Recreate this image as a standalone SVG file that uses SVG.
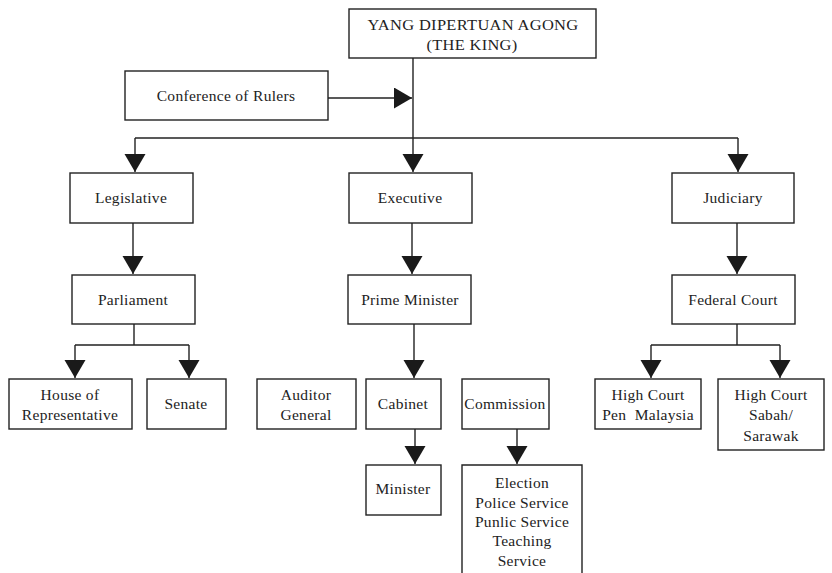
<svg xmlns="http://www.w3.org/2000/svg" width="832" height="573" viewBox="0 0 832 573">
<defs>
<marker id="ah" markerUnits="userSpaceOnUse" markerWidth="19" markerHeight="22" refX="18" refY="10.5" orient="auto">
<path d="M0,0 L18,10.5 L0,21 z" fill="#1a1a1a"/>
</marker>
<style>
.box{fill:#fff;stroke:#222;stroke-width:1.4}
.c{fill:none;stroke:#222;stroke-width:1.4}
.a{marker-end:url(#ah)}
text{font-family:"Liberation Serif","Times New Roman",serif;font-size:15.5px;fill:#222;text-anchor:middle;letter-spacing:0.3px}
</style>
</defs>
<rect width="832" height="573" fill="#fff"/>
<g id="connectors">
<path class="c a" d="M328,98 H412"/>
<path class="c a" d="M413,58 V172"/>
<path class="c" d="M135,138 H738"/>
<path class="c a" d="M135,138 V172"/>
<path class="c a" d="M738,138 V172"/>
<path class="c a" d="M133,223 V274"/>
<path class="c a" d="M412,223 V274"/>
<path class="c a" d="M737,223 V274"/>
<path class="c" d="M134,324 V345 M75,345 H189"/>
<path class="c a" d="M75,345 V378"/>
<path class="c a" d="M189,345 V378"/>
<path class="c a" d="M414,324 V378"/>
<path class="c a" d="M415,429 V464"/>
<path class="c a" d="M517,429 V464"/>
<path class="c" d="M737,324 V345 M651,345 H780"/>
<path class="c a" d="M651,345 V378"/>
<path class="c a" d="M780,345 V378"/>
</g>
<g id="king"><rect class="box" x="349" y="9" width="247" height="49"/><text x="473" y="30" textLength="211" lengthAdjust="spacingAndGlyphs">YANG DIPERTUAN AGONG</text><text x="472" y="50" textLength="91" lengthAdjust="spacingAndGlyphs">(THE KING)</text></g>
<g id="conference"><rect class="box" x="125" y="71" width="203" height="49"/><text x="226" y="101">Conference of Rulers</text></g>
<g id="legislative"><rect class="box" x="70" y="173" width="123" height="50"/><text x="131" y="203">Legislative</text></g>
<g id="executive"><rect class="box" x="349" y="173" width="123" height="50"/><text x="410" y="203">Executive</text></g>
<g id="judiciary"><rect class="box" x="672" y="173" width="122" height="50"/><text x="733" y="203">Judiciary</text></g>
<g id="parliament"><rect class="box" x="72" y="275" width="123" height="49"/><text x="133" y="305">Parliament</text></g>
<g id="primeminister"><rect class="box" x="348" y="275" width="123" height="49"/><text x="410" y="305">Prime Minister</text></g>
<g id="federalcourt"><rect class="box" x="672" y="275" width="123" height="49"/><text x="733" y="305">Federal Court</text></g>
<g id="house"><rect class="box" x="9" y="379" width="123" height="50"/><text x="70" y="400">House of</text><text x="70" y="420">Representative</text></g>
<g id="senate"><rect class="box" x="147" y="379" width="79" height="50"/><text x="186" y="409">Senate</text></g>
<g id="auditor"><rect class="box" x="257" y="379" width="99" height="50"/><text x="306" y="400">Auditor</text><text x="306" y="420">General</text></g>
<g id="cabinet"><rect class="box" x="366" y="379" width="75" height="50"/><text x="403" y="409">Cabinet</text></g>
<g id="commission"><rect class="box" x="462" y="379" width="87" height="50"/><text x="505" y="409">Commission</text></g>
<g id="minister"><rect class="box" x="366" y="465" width="75" height="50"/><text x="403" y="494">Minister</text></g>
<g id="election"><path class="box" d="M462,574 V465 H582 V574"/><text x="522" y="488">Election</text><text x="522" y="508">Police Service</text><text x="522" y="527">Punlic Service</text><text x="522" y="546">Teaching</text><text x="522" y="566">Service</text></g>
<g id="highcourtpen"><rect class="box" x="595" y="379" width="106" height="50"/><text x="648" y="400">High Court</text><text x="648" y="420" xml:space="preserve">Pen  Malaysia</text></g>
<g id="highcourtsabah"><rect class="box" x="718" y="379" width="106" height="71"/><text x="771" y="400">High Court</text><text x="771" y="420">Sabah/</text><text x="771" y="441">Sarawak</text></g>
</svg>
